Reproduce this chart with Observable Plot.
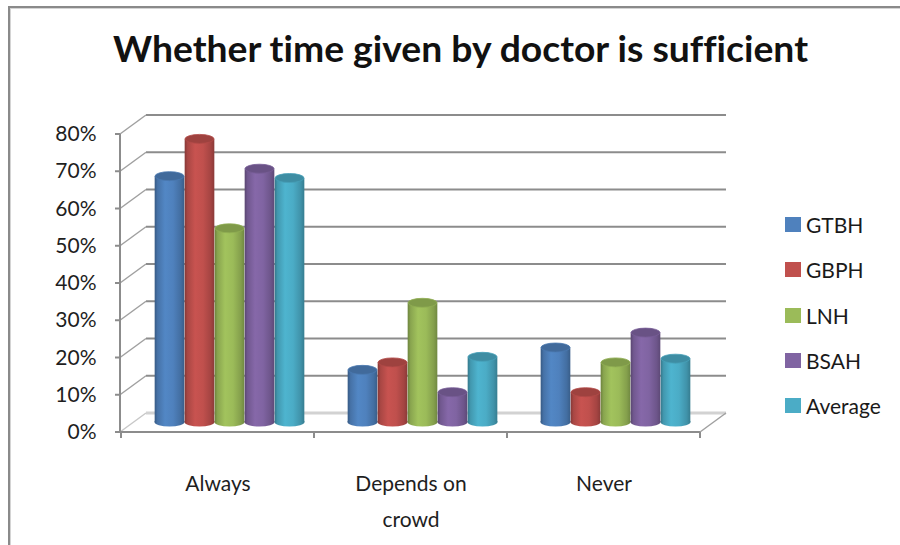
<!DOCTYPE html>
<html>
<head>
<meta charset="utf-8">
<script src="https://cdn.jsdelivr.net/npm/d3@7"></script>
<script src="https://cdn.jsdelivr.net/npm/@observablehq/plot@0.6"></script>
<style>
  body { margin: 0; background: #fff; }
  #chart { position: relative; width: 900px; height: 545px; overflow: hidden; font-family: Lato, "Open Sans", sans-serif; color: #111; font-variant-ligatures: none; font-feature-settings: "liga" 0, "clig" 0, "dlig" 0; }
  #border { position: absolute; left: 8px; top: 6px; width: 1000px; height: 700px; border-left: 2px solid #8a8a8a; border-top: 2px solid #8a8a8a; box-shadow: inset 1px 1px 0 #d4d4d4; }
  #plot { position: absolute; left: 0; top: 0; }
  #title { position: absolute; left: 0; top: 0; }
  #legend { position: absolute; left: 785px; top: 0; width: 115px; height: 545px; }
  .item { position: absolute; left: 0; height: 24px; display: flex; align-items: center; font-size: 21px; white-space: nowrap; color: #1a1a1a; }
  .swatch { width: 16px; height: 15px; margin-right: 5px; }
  svg text { font-variant-ligatures: none; font-feature-settings: "liga" 0, "clig" 0, "dlig" 0; }
</style>
</head>
<body>
<div id="chart">
  <div id="border"></div>
  <svg id="title" width="900" height="90"></svg>
  <div id="plot"></div>
  <div id="legend"></div>
</div>
<script>
// Survey answers per hospital, one array per series (share of respondents)
const categories = ["Always", "Depends on crowd", "Never"];
const categoryLabels = ["Always", "Depends on\ncrowd", "Never"];
const series = ["GTBH", "GBPH", "LNH", "BSAH", "Average"];
const gtbh = [0.66, 0.14, 0.20];
const gbph = [0.76, 0.16, 0.08];
const lnh = [0.52, 0.32, 0.16];
const bsah = [0.68, 0.08, 0.24];
const average = [0.655, 0.175, 0.17];
const colors = ["#4F81BD", "#C0504D", "#9BBB59", "#8064A2", "#4BACC6"];
const yTicks = [0, 0.1, 0.2, 0.3, 0.4, 0.5, 0.6, 0.7, 0.8];
const titleText = "Whether time given by doctor is sufficient";

const seriesValues = [gtbh, gbph, lnh, bsah, average];
const rows = [];
series.forEach((s, i) => categories.forEach((c, j) => rows.push({series: s, si: i, category: c, value: seriesValues[i][j]})));

const ns = "http://www.w3.org/2000/svg";
const el = (tag, attrs) => { const e = document.createElementNS(ns, tag); for (const k in attrs) e.setAttribute(k, attrs[k]); return e; };

// Layout of the pseudo-3D box
const W = 900, H = 545, ML = 120, MR = 200, MT = 134, MB = 113;
const depthX = 26, depthY = -19;      // offset from front plane to back wall
const midX = 12, midY = -10;          // bars sit halfway in depth
const barW = 30;
const bandW = (W - ML - MR) / categories.length;

// gradient definitions giving the columns a rounded, cylindrical shading
function gradients() {
  const defs = el("defs", {});
  colors.forEach((c, i) => {
    const g = el("linearGradient", {id: "cyl" + i, x1: "0", x2: "1", y1: "0", y2: "0"});
    const base = d3.color(c);
    [[0, base.darker(1.0)], [0.1, base.darker(0.35)], [0.35, base.brighter(0.12)], [0.62, base], [0.88, base.darker(0.45)], [1, base.darker(0.9)]]
      .forEach(([o, col]) => g.appendChild(el("stop", {offset: o, "stop-color": col.formatHex()})));
    defs.appendChild(g);
  });
  return defs;
}

// back wall, side wall, floor and category ticks
function box(index, scales, values, dims) {
  const g = el("g", {fill: "none", "stroke-linecap": "butt"});
  const y = scales.y;
  const x0 = dims.marginLeft, x1 = dims.width - dims.marginRight;
  const grid = "#8c8c8c";
  yTicks.forEach((t, k) => {
    const yy = y(t);
    if (k > 0) g.appendChild(el("line", {x1: x0 + depthX, x2: x1 + depthX, y1: yy + depthY, y2: yy + depthY, stroke: grid, "stroke-width": 2}));
    else g.appendChild(el("line", {x1: x0 + depthX, x2: x1 + depthX, y1: yy + depthY, y2: yy + depthY, stroke: "#d2d2d2", "stroke-width": 3}));
    g.appendChild(el("line", {x1: x0, x2: x0 + depthX, y1: yy, y2: yy + depthY, stroke: k > 0 ? "#a0a0a0" : "#c8c8c8", "stroke-width": 1.5}));
    g.appendChild(el("line", {x1: x0 - 5, x2: x0, y1: yy, y2: yy, stroke: grid, "stroke-width": 2}));
  });
  // front vertical axis
  g.appendChild(el("line", {x1: x0, x2: x0, y1: y(0), y2: y(0.8), stroke: grid, "stroke-width": 2}));
  // floor front edge and right side
  g.appendChild(el("line", {x1: x0 - 5, x2: x1, y1: y(0), y2: y(0), stroke: grid, "stroke-width": 2}));
  g.appendChild(el("line", {x1: x1, x2: x1 + depthX, y1: y(0), y2: y(0) + depthY, stroke: "#a0a0a0", "stroke-width": 1.5}));
  // category boundary ticks
  const bw = scales.x.bandwidth ? scales.x.bandwidth() : bandW;
  categories.forEach((c, k) => {
    const xx = scales.x(c);
    g.appendChild(el("line", {x1: xx, x2: xx, y1: y(0), y2: y(0) + 6, stroke: grid, "stroke-width": 2}));
    if (k === categories.length - 1) g.appendChild(el("line", {x1: xx + bw, x2: xx + bw, y1: y(0), y2: y(0) + 6, stroke: grid, "stroke-width": 2}));
  });
  return g;
}

const barLeft = (i) => bandW / 2 - (series.length * barW) / 2 + i * barW;

// elliptical bottoms and tops of the cylinders
function caps(which) {
  return (index, scales, values, dims) => {
    const g = el("g", {});
    const bw = scales.x.bandwidth ? scales.x.bandwidth() : bandW;
    rows.forEach(r => {
      const cx = scales.x(r.category) + bw / 2 - (series.length * barW) / 2 + r.si * barW + barW / 2 + midX;
      if (which === "bottom") {
        g.appendChild(el("ellipse", {cx, cy: scales.y(0) + midY, rx: barW / 2, ry: 4.5, fill: `url(#cyl${r.si})`}));
      } else {
        const base = d3.color(colors[r.si]);
        g.appendChild(el("ellipse", {cx, cy: scales.y(r.value) + midY, rx: barW / 2 - 0.5, ry: 4.5, fill: base.darker(0.55).formatHex(), stroke: base.darker(0.2).formatHex(), "stroke-width": 0.8}));
      }
    });
    return g;
  };
}

const barMarks = series.map((s, i) => Plot.barY(rows.filter(r => r.series === s), {
  x: "category",
  y: "value",
  fill: `url(#cyl${i})`,
  insetLeft: barLeft(i),
  insetRight: bandW - barLeft(i) - barW,
  dx: midX,
  dy: midY
}));

const plot = Plot.plot({
  width: W,
  height: H,
  marginLeft: ML,
  marginRight: MR,
  marginTop: MT,
  marginBottom: MB,
  x: {domain: categories, padding: 0, axis: null},
  y: {domain: [0, 0.8], axis: null},
  style: {background: "transparent", overflow: "visible", fontFamily: "Lato, 'Open Sans', sans-serif", color: "#111"},
  marks: [
    gradients,
    box,
    caps("bottom"),
    ...barMarks,
    caps("top"),
    Plot.text(yTicks, {y: d => d, text: d => d3.format(".0%")(d), frameAnchor: "left", textAnchor: "end", dx: -24, fontSize: 21, fill: "#1e1e1e"}),
    Plot.text(categories, {x: d => d, text: (d, i) => categoryLabels[i], frameAnchor: "bottom", lineAnchor: "top", dy: 33, fontSize: 21, lineHeight: 1.72, fill: "#1e1e1e"})
  ]
});
document.getElementById("plot").appendChild(plot);

// title
const title = document.getElementById("title");
const tt = el("text", {x: 460.5, y: 62, "text-anchor": "middle", "font-size": 36, "font-weight": "bold", "font-family": "Lato, 'Open Sans', sans-serif", fill: "#111", textLength: 695, lengthAdjust: "spacingAndGlyphs", style: "font-variant-ligatures: none; font-feature-settings: 'liga' 0, 'clig' 0"});
tt.textContent = titleText;
title.appendChild(tt);

// legend
const legend = document.getElementById("legend");
const legendY = [224, 269, 315, 360, 405];
series.forEach((s, i) => {
  const item = document.createElement("div");
  item.className = "item";
  item.style.top = (legendY[i] - 12) + "px";
  const sw = document.createElement("div");
  sw.className = "swatch";
  sw.style.background = colors[i];
  const label = document.createElement("span");
  label.textContent = s;
  item.appendChild(sw);
  item.appendChild(label);
  legend.appendChild(item);
});
</script>
</body>
</html>
